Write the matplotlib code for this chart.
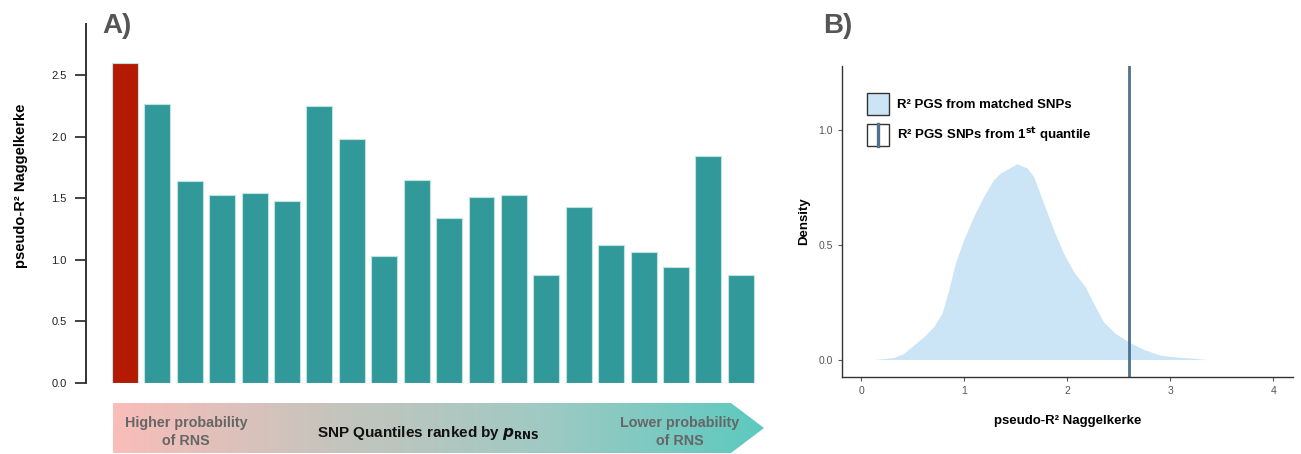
import matplotlib
matplotlib.use('Agg')
import matplotlib.pyplot as plt
import numpy as np
from matplotlib.patches import Patch, Polygon, Rectangle
from matplotlib.lines import Line2D
from matplotlib.colors import LinearSegmentedColormap

plt.rcParams['font.family'] = ['Liberation Sans', 'DejaVu Sans']

# panel A: pseudo-R2 per SNP quantile (1st quantile highlighted)
quantiles = list(range(1, 21))
r2_quantile = [2.60, 2.265, 1.637, 1.523, 1.545, 1.475, 2.246, 1.978, 1.031, 1.645,
               1.342, 1.512, 1.528, 0.879, 1.431, 1.123, 1.066, 0.944, 1.845, 0.879]

# panel B: density of R2 from matched SNPs
dens_x = [0.12, 0.314, 0.41, 0.508, 0.605, 0.702, 0.783, 0.848, 0.913, 0.993, 1.09,
          1.187, 1.284, 1.35, 1.512, 1.609, 1.673, 1.77, 1.867, 1.964, 2.061, 2.175,
          2.255, 2.352, 2.466, 2.595, 2.741, 2.903, 3.065, 3.226, 3.356]
dens_y = [0.0, 0.009, 0.026, 0.063, 0.099, 0.143, 0.201, 0.303, 0.42, 0.522, 0.624,
          0.711, 0.784, 0.813, 0.854, 0.835, 0.798, 0.682, 0.565, 0.463, 0.383, 0.317,
          0.245, 0.164, 0.114, 0.077, 0.044, 0.019, 0.011, 0.006, 0.0]
first_quantile_r2 = 2.6

W, H = 1301, 454
fig = plt.figure(figsize=(W / 100, H / 100), dpi=100)

def px_rect(x0, y0, x1, y1):
    return [x0 / W, 1 - y1 / H, (x1 - x0) / W, (y1 - y0) / H]

teal = '#319999'
red = '#B41A02'
vline_col = '#4D7190'

# ---------- A ----------
axA = fig.add_axes(px_rect(86, 24, 770, 383))
colors = [red] + [teal] * (len(quantiles) - 1)
axA.bar(np.arange(len(quantiles)), r2_quantile, width=0.8, color=colors,
        edgecolor='#BFE3E0', linewidth=0.8)
axA.set_xlim(-1.2, 19.9)
axA.set_ylim(0, 2.915)
for s in ['top', 'right', 'bottom']:
    axA.spines[s].set_visible(False)
axA.spines['left'].set_color('#333333')
axA.spines['left'].set_linewidth(1.4)
axA.set_xticks([])
axA.set_yticks([0, 0.5, 1.0, 1.5, 2.0, 2.5])
axA.set_yticklabels(['0.0', '0.5', '1.0', '1.5', '2.0', '2.5'])
axA.tick_params(axis='y', length=8, width=1.3, color='#333333', labelsize=8,
                labelcolor='#222222', pad=6)
axA.set_ylabel('pseudo-R² Naggelkerke', fontsize=10.5, fontweight='bold')
axA.yaxis.set_label_coords(-0.085, 0.549)
fig.text(102 / W, 1 - 26 / H, 'A)', fontsize=20, fontweight='bold', color='#555555',
         va='center', ha='left')

# gradient arrow
axArr = fig.add_axes([0, 0, 1, 1], zorder=-1)
axArr.set_xlim(0, W)
axArr.set_ylim(H, 0)
axArr.axis('off')
cmap = LinearSegmentedColormap.from_list('arr', ['#FABDB9', '#C6C4BD', '#9ECAC3', '#5CC9BF'])
grad = np.linspace(0, 1, 512).reshape(1, -1)
im = axArr.imshow(grad, cmap=cmap, extent=[113, 764, 453, 403], aspect='auto')
arrow = Polygon([[113, 403], [731, 403], [764, 428], [731, 453], [113, 453]],
                closed=True, facecolor='none', edgecolor='none')
axArr.add_patch(arrow)
im.set_clip_path(arrow)
axArr.text(186, 432, 'Higher probability\nof RNS', ha='center', va='center',
           fontsize=10.3, fontweight='bold', color='#666666', linespacing=1.3)
axArr.text(680, 432, 'Lower probability\nof RNS', ha='center', va='center',
           fontsize=10.3, fontweight='bold', color='#666666', linespacing=1.3)
axArr.text(428, 433, r'SNP Quantiles ranked by $\boldsymbol{p}_{\mathbf{RNS}}$', ha='center',
           va='center', fontsize=11, fontweight='bold', color='#111111')

# ---------- B ----------
axB = fig.add_axes(px_rect(842, 66, 1293, 377))
axB.fill_between(dens_x, dens_y, 0, color='#CCE5F6', linewidth=0)
axB.axvline(first_quantile_r2, color=vline_col, linewidth=2)
axB.set_xlim(-0.187, 4.19)
axB.set_ylim(-0.076, 1.28)
for s in ['top', 'right']:
    axB.spines[s].set_visible(False)
for s in ['left', 'bottom']:
    axB.spines[s].set_color('#333333')
    axB.spines[s].set_linewidth(1.0)
axB.set_xticks([0, 1, 2, 3, 4])
axB.set_yticks([0.0, 0.5, 1.0])
axB.set_yticklabels(['0.0', '0.5', '1.0'])
axB.tick_params(length=3, width=0.8, color='#555555', labelsize=7.5, labelcolor='#555555')
axB.set_xlabel('pseudo-R² Naggelkerke', fontsize=9.5, fontweight='bold', labelpad=14)
axB.set_ylabel('Density', fontsize=9.5, fontweight='bold', labelpad=6)
fig.text(823 / W, 1 - 26 / H, 'B)', fontsize=20, fontweight='bold', color='#555555',
         va='center', ha='left')


class BoxLine:
    pass


class BoxLineHandler:
    def legend_artist(self, legend, orig_handle, fontsize, handlebox):
        x0, y0 = handlebox.xdescent, handlebox.ydescent
        w, h = handlebox.width, handlebox.height
        tr = handlebox.get_transform()
        rect = Rectangle((-x0, -y0), w, h, facecolor='white', edgecolor='#333333',
                         linewidth=1, transform=tr)
        xm = -x0 + 0.52 * w
        line = Line2D([xm, xm], [-y0, -y0 + h], color=vline_col, linewidth=2.4,
                      transform=tr)
        handlebox.add_artist(rect)
        handlebox.add_artist(line)
        return rect


h1 = Patch(facecolor='#CCE5F6', edgecolor='#333333', linewidth=1)
leg = axB.legend([h1, BoxLine()], ['R² PGS from matched SNPs',
                                   r'R² PGS SNPs from 1$^{\mathbf{st}}$ quantile'],
                 handler_map={BoxLine: BoxLineHandler()},
                 loc='upper left', bbox_to_anchor=(0.055, 0.913), frameon=False,
                 prop={'weight': 'bold', 'size': 9.5}, handlelength=1.67, handleheight=2.19,
                 handletextpad=0.6, labelspacing=0.68, borderaxespad=0, borderpad=0)

fig.savefig('out.png', dpi=100)
